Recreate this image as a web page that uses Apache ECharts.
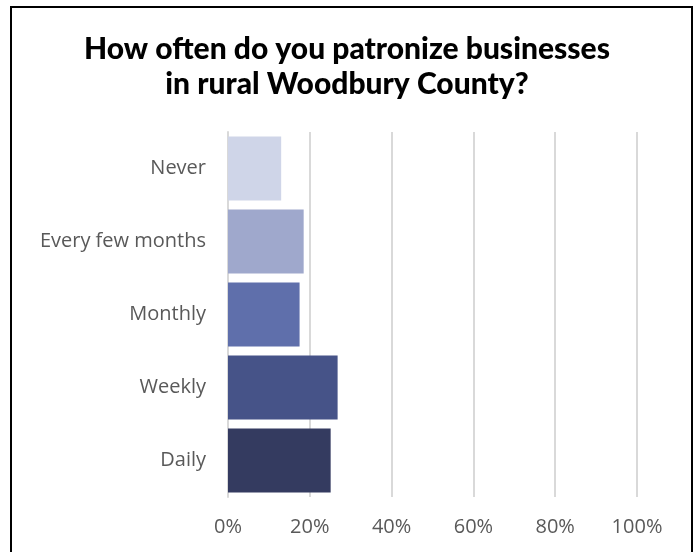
<!DOCTYPE html>
<html>
<head>
<meta charset="utf-8">
<script src="https://cdn.jsdelivr.net/npm/echarts@6/dist/echarts.min.js"></script>
<style>
  html, body { margin: 0; padding: 0; background: #fff; overflow: hidden; }
  #chart { position: absolute; left: 0; top: 0; width: 694px; height: 552px; }
  #frame { position: absolute; left: 10px; top: 6px; width: 679px; height: 560px; border: 2px solid #000; pointer-events: none; }
</style>
</head>
<body>
<div id="chart"></div>
<div id="frame"></div>
<script>
  // survey answers (share of respondents, %)
  const categories = ['Never', 'Every few months', 'Monthly', 'Weekly', 'Daily']
  const values = [13.0, 18.5, 17.5, 26.8, 25.1]
  const barColors = ['#cfd5e8', '#9fa8cc', '#5f6fab', '#465388', '#343b60']
  const tickLabels = ['0%', '20%', '40%', '60%', '80%', '100%']

  const chart = echarts.init(document.getElementById('chart'))
  chart.setOption({
    animation: false,
    title: {
      text: 'How often do you patronize businesses\nin rural Woodbury County?',
      left: 'center',
      top: 27,
      textStyle: {
        fontFamily: 'Lato',
        fontWeight: 900,
        fontSize: 30,
        lineHeight: 35,
        color: '#000'
      }
    },
    grid: {
      left: 228,
      right: 57,
      top: 132,
      bottom: 55
    },
    xAxis: {
      type: 'value',
      min: 0,
      max: 100,
      interval: 20,
      axisLine: { show: false },
      axisTick: { show: false },
      splitLine: { lineStyle: { color: '#d9d9d9', width: 2 } },
      axisLabel: {
        margin: 20,
        fontFamily: 'Open Sans',
        fontSize: 20,
        color: '#595959',
        formatter: function (v) { return tickLabels[v / 20] }
      }
    },
    yAxis: {
      type: 'category',
      inverse: true,
      data: categories,
      axisLine: { show: true, lineStyle: { color: '#d9d9d9', width: 2 } },
      axisTick: { show: false },
      axisLabel: {
        margin: 22,
        fontFamily: 'Open Sans',
        fontSize: 20,
        color: '#595959'
      }
    },
    series: [
      {
        type: 'bar',
        barWidth: '87.5%',
        data: values.map(function (v, i) {
          return { value: v, itemStyle: { color: barColors[i] } }
        })
      }
    ]
  })
</script>
</body>
</html>
